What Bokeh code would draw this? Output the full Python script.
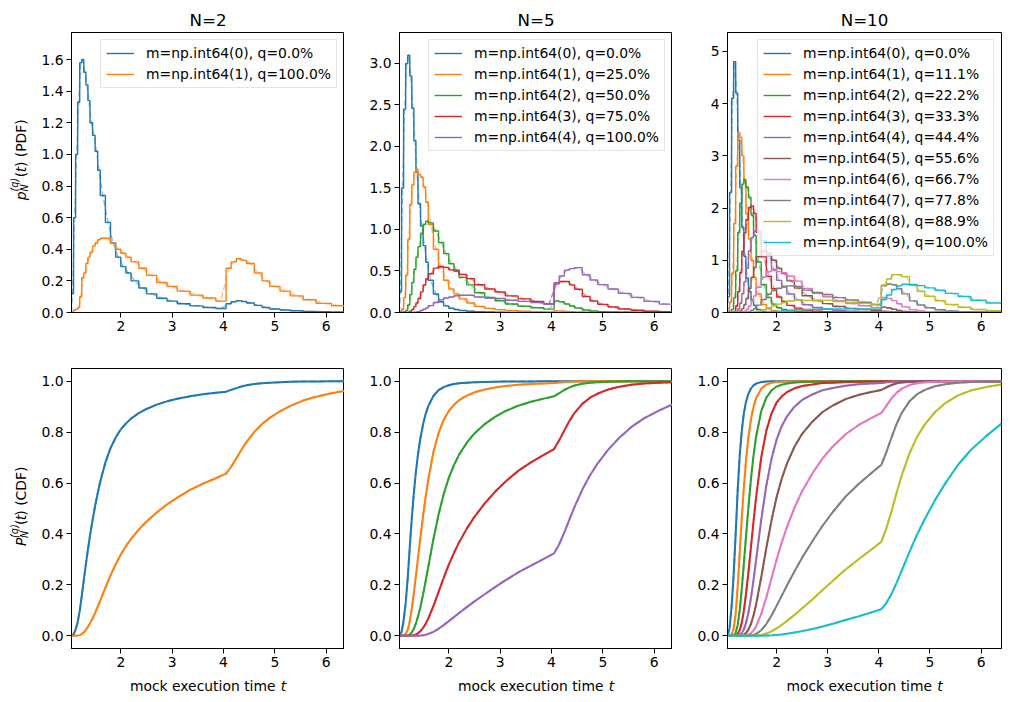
from bokeh.plotting import figure
from bokeh.layouts import column, row
from bokeh.models import Legend, LegendItem, Label, FixedTicker, Range1d, NumeralTickFormatter
from bokeh.embed import file_html
from bokeh.resources import INLINE

FONT = "DejaVu Sans"
COLORS = ["#1f77b4", "#ff7f0e", "#2ca02c", "#d62728", "#9467bd",
          "#8c564b", "#e377c2", "#7f7f7f", "#bcbd22", "#17becf"]

# Histogram bin edges (PDF) and evaluation points (CDF)
bin_edges = [1.04, 1.08, 1.12, 1.16, 1.2, 1.24, 1.28, 1.32, 1.36, 1.4, 1.45, 1.5, 1.55, 1.6,
             1.7, 1.8, 1.9, 2.0, 2.1, 2.2, 2.35, 2.5, 2.7, 2.9, 3.1, 3.35, 3.6, 3.85, 4.05,
             4.15, 4.25, 4.35, 4.45, 4.6, 4.75, 4.9, 5.1, 5.3, 5.55, 5.8, 6.1, 6.4]
t_cdf = bin_edges

sample_sizes = [2, 5, 10]

# ---- PDF histograms (density per bin) ----
pdf2_0 = [0.12, 0.6, 1.0, 1.33, 1.58, 1.6, 1.52, 1.44, 1.34, 1.2,
          1.12, 1.02, 0.9, 0.74, 0.57, 0.44, 0.35, 0.29, 0.25, 0.2,
          0.155, 0.118, 0.09, 0.072, 0.055, 0.042, 0.032, 0.025, 0.055, 0.068,
          0.075, 0.07, 0.06, 0.045, 0.032, 0.022, 0.016, 0.011, 0.007, 0.005,
          0.003]
pdf2_1 = [0.0, 0.015, 0.02, 0.03, 0.1, 0.22, 0.25, 0.31, 0.35, 0.38,
          0.42, 0.44, 0.46, 0.47, 0.47, 0.44, 0.4, 0.375, 0.35, 0.32,
          0.28, 0.235, 0.19, 0.165, 0.135, 0.11, 0.092, 0.072, 0.28, 0.32,
          0.34, 0.33, 0.31, 0.25, 0.2, 0.165, 0.135, 0.105, 0.081, 0.058,
          0.043]

pdf5_0 = [0.25, 1.5, 2.45, 3.0, 3.1, 2.85, 2.46, 2.07, 1.685, 1.31,
          1.04, 0.806, 0.606, 0.388, 0.222, 0.13, 0.08, 0.051, 0.036, 0.024,
          0.015, 0.0085, 0.0052, 0.0033, 0.002, 0.001, 0.0007, 0.0005, 0.0012, 0.0009,
          0.0006, 0.0003, 0, 0, 0, 0, 0, 0, 0, 0,
          0]
pdf5_1 = [0.0, 0.04, 0.18, 0.45, 0.88, 1.3, 1.537, 1.69, 1.727, 1.664,
          1.63, 1.512, 1.332, 1.058, 0.762, 0.54, 0.389, 0.284, 0.224, 0.164,
          0.115, 0.0735, 0.05, 0.035, 0.023, 0.0155, 0.0106, 0.007, 0.02, 0.0168,
          0.0126, 0.0083, 0.0047, 0.0022, 0.001, 0, 0, 0, 0, 0,
          0]
pdf5_2 = [0.0, 0.0, 0.005, 0.025, 0.09, 0.216, 0.36, 0.52, 0.665, 0.793,
          0.956, 1.063, 1.101, 1.08, 0.982, 0.843, 0.709, 0.587, 0.514, 0.422,
          0.333, 0.238, 0.18, 0.141, 0.102, 0.0756, 0.0565, 0.0404, 0.14, 0.13,
          0.1028, 0.0787, 0.0547, 0.0307, 0.0183, 0.0107, 0.0058, 0.0031, 0.0015, 0.0007,
          0.0]
pdf5_3 = [0, 0, 0, 0.001, 0.004, 0.016, 0.0375, 0.071, 0.1135, 0.168,
          0.249, 0.332, 0.404, 0.466, 0.534, 0.556, 0.544, 0.514, 0.499, 0.459,
          0.408, 0.334, 0.283, 0.247, 0.2, 0.164, 0.1336, 0.103, 0.345, 0.373,
          0.374, 0.333, 0.2806, 0.193, 0.1383, 0.098, 0.0659, 0.0423, 0.0264, 0.0149,
          0.0087]
pdf5_4 = [0, 0, 0, 0, 0, 0.0004, 0.0015, 0.0036, 0.0073, 0.0133,
          0.0243, 0.0388, 0.0556, 0.0834, 0.1207, 0.152, 0.174, 0.187, 0.201, 0.207,
          0.207, 0.186, 0.175, 0.169, 0.148, 0.134, 0.1185, 0.0989, 0.359, 0.44,
          0.51, 0.529, 0.54, 0.454, 0.392, 0.336, 0.283, 0.23, 0.182, 0.134,
          0.101]

pdf10_0 = [0.3, 2.3, 4.1, 4.8, 4.2, 3.3, 2.386, 1.626, 1.078, 0.66,
           0.401, 0.236, 0.135, 0.058, 0.02, 0.0073, 0.003, 0.0013, 0.0007, 0.0003,
           0, 0, 0, 0, 0, 0, 0, 0, 0, 0,
           0, 0, 0, 0, 0, 0, 0, 0, 0, 0,
           0]
pdf10_1 = [0.01, 0.2, 0.75, 1.7, 2.8, 3.448, 3.351, 2.998, 2.486, 1.887,
           1.408, 0.996, 0.67, 0.355, 0.155, 0.069, 0.033, 0.017, 0.0097, 0.005,
           0.0024, 0.001, 0, 0, 0, 0, 0, 0, 0, 0,
           0, 0, 0, 0, 0, 0, 0, 0, 0, 0,
           0]
pdf10_2 = [0, 0.005, 0.06, 0.28, 0.8, 1.532, 2.092, 2.457, 2.549, 2.397,
           2.202, 1.867, 1.475, 0.966, 0.531, 0.286, 0.16, 0.092, 0.059, 0.034,
           0.018, 0.009, 0.0047, 0.0025, 0.001, 0, 0, 0, 0, 0,
           0, 0, 0, 0, 0, 0, 0, 0, 0, 0,
           0]
pdf10_3 = [0, 0, 0.002, 0.022, 0.123, 0.397, 0.762, 1.174, 1.524, 1.776,
           2.009, 2.04, 1.894, 1.535, 1.065, 0.694, 0.454, 0.297, 0.212, 0.137,
           0.083, 0.0455, 0.0263, 0.0157, 0.0087, 0.0049, 0.0029, 0.0016, 0.004, 0.0026,
           0.001, 0, 0, 0, 0, 0, 0, 0, 0, 0,
           0]
pdf10_4 = [0, 0, 0, 0.001, 0.013, 0.066, 0.178, 0.361, 0.586, 0.846,
           1.177, 1.434, 1.563, 1.567, 1.372, 1.084, 0.826, 0.615, 0.487, 0.353,
           0.241, 0.148, 0.095, 0.063, 0.039, 0.024, 0.015, 0.0095, 0.025, 0.018,
           0.0115, 0.0062, 0.003, 0.001, 0, 0, 0, 0, 0, 0,
           0]
pdf10_5 = [0, 0, 0, 0, 0.001, 0.0074, 0.028, 0.074, 0.15, 0.269,
           0.46, 0.672, 0.861, 1.067, 1.178, 1.128, 1.001, 0.849, 0.746, 0.606,
           0.466, 0.32, 0.23, 0.169, 0.114, 0.0785, 0.0545, 0.0363, 0.103, 0.086,
           0.063, 0.039, 0.021, 0.0088, 0.004, 0.001, 0, 0, 0, 0,
           0]
pdf10_6 = [0, 0, 0, 0, 0, 0.001, 0.003, 0.01, 0.026, 0.057,
           0.12, 0.21, 0.316, 0.484, 0.674, 0.782, 0.809, 0.782, 0.762, 0.694,
           0.6, 0.462, 0.369, 0.302, 0.225, 0.17, 0.129, 0.093, 0.286, 0.27,
           0.228, 0.167, 0.108, 0.055, 0.03, 0.015, 0.007, 0.003, 0.001, 0,
           0]
pdf10_7 = [0, 0, 0, 0, 0, 0, 0, 0.001, 0.003, 0.008,
           0.02, 0.042, 0.075, 0.141, 0.248, 0.349, 0.42, 0.463, 0.5, 0.51,
           0.497, 0.428, 0.382, 0.346, 0.284, 0.238, 0.196, 0.152, 0.509, 0.545,
           0.532, 0.455, 0.356, 0.223, 0.144, 0.091, 0.052, 0.028, 0.014, 0.0065,
           0.003]
pdf10_8 = [0, 0, 0, 0, 0, 0, 0, 0, 0, 0,
           0.002, 0.005, 0.01, 0.024, 0.053, 0.091, 0.127, 0.16, 0.191, 0.219,
           0.24, 0.232, 0.231, 0.232, 0.21, 0.194, 0.174, 0.146, 0.529, 0.642,
           0.725, 0.722, 0.686, 0.524, 0.408, 0.31, 0.224, 0.152, 0.0995, 0.0586,
           0.0351]
pdf10_9 = [0, 0, 0, 0, 0, 0, 0, 0, 0, 0,
           0, 0, 0.001, 0.002, 0.005, 0.011, 0.017, 0.025, 0.033, 0.042,
           0.052, 0.056, 0.062, 0.069, 0.069, 0.07, 0.068, 0.062, 0.244, 0.336,
           0.439, 0.51, 0.54, 0.53, 0.514, 0.472, 0.427, 0.367, 0.305, 0.235,
           0.182]

# ---- CDF values at t_cdf ----
cdf2_0 = [0, 0.006, 0.024, 0.053, 0.0975, 0.157, 0.22, 0.281, 0.339, 0.393,
          0.454, 0.51, 0.56, 0.606, 0.681, 0.737, 0.779, 0.811, 0.834, 0.853,
          0.875, 0.891, 0.908, 0.921, 0.931, 0.941, 0.949, 0.955, 0.959, 0.966,
          0.973, 0.979, 0.984, 0.989, 0.992, 0.994, 0.996, 0.998, 0.999, 0.999,
          1.0, 1.0]
cdf2_1 = [0, 0, 0.0001, 0.0007, 0.0025, 0.0067, 0.0137, 0.0231, 0.035, 0.0488,
          0.068, 0.09, 0.114, 0.138, 0.189, 0.237, 0.281, 0.319, 0.352, 0.381,
          0.417, 0.449, 0.484, 0.516, 0.543, 0.573, 0.598, 0.619, 0.637, 0.664,
          0.697, 0.731, 0.762, 0.801, 0.832, 0.856, 0.882, 0.903, 0.924, 0.939,
          0.953, 0.964]

cdf5_0 = [0, 0.015, 0.059, 0.128, 0.226, 0.348, 0.463, 0.562, 0.645, 0.713,
          0.78, 0.832, 0.872, 0.902, 0.942, 0.965, 0.977, 0.984, 0.989, 0.992,
          0.994, 0.996, 0.997, 0.998, 0.999, 0.999, 0.999, 1, 1, 1,
          1, 1, 1, 1, 1, 1, 1, 1, 1, 1,
          1, 1]
cdf5_1 = [0, 0.0001, 0.0014, 0.007, 0.0226, 0.0568, 0.1076, 0.1685, 0.2363, 0.3061,
          0.3904, 0.4717, 0.5464, 0.6131, 0.7208, 0.7959, 0.8478, 0.8832, 0.9074, 0.9254,
          0.9437, 0.9564, 0.9677, 0.9755, 0.9811, 0.986, 0.9891, 0.9915, 0.9931, 0.995,
          0.9968, 0.998, 0.9988, 0.9995, 0.9997, 0.9998, 0.9999, 1, 1, 1,
          1, 1]
cdf5_2 = [0, 0, 0, 0.0003, 0.0012, 0.0048, 0.0134, 0.0276, 0.0484, 0.0752,
          0.1155, 0.163, 0.2154, 0.2703, 0.3795, 0.4757, 0.5562, 0.6205, 0.6703, 0.7115,
          0.7586, 0.7951, 0.8316, 0.8599, 0.8823, 0.9038, 0.9192, 0.9317, 0.9406, 0.953,
          0.9655, 0.9757, 0.9832, 0.9902, 0.994, 0.9962, 0.998, 0.9989, 0.9995, 0.9998,
          0.9999, 1]
cdf5_3 = [0, 0, 0, 0, 0.0001, 0.0002, 0.0009, 0.0023, 0.0052, 0.0097,
          0.0184, 0.0307, 0.0472, 0.0673, 0.1168, 0.1717, 0.2273, 0.2792, 0.325, 0.3669,
          0.4208, 0.4675, 0.52, 0.5656, 0.6054, 0.6476, 0.6812, 0.7105, 0.7333, 0.7677,
          0.807, 0.8443, 0.8759, 0.9111, 0.9353, 0.9517, 0.9672, 0.9775, 0.9859, 0.991,
          0.9944, 0.9966]
cdf5_4 = [0, 0, 0, 0, 0, 0, 0, 0.0001, 0.0002, 0.0005,
          0.0012, 0.0024, 0.0044, 0.0072, 0.0156, 0.0274, 0.0418, 0.0576, 0.0733, 0.0894,
          0.1125, 0.135, 0.1633, 0.1909, 0.2175, 0.2486, 0.276, 0.302, 0.3237, 0.3596,
          0.4061, 0.4569, 0.5071, 0.5743, 0.6309, 0.6772, 0.7301, 0.7738, 0.8196, 0.8543,
          0.8855, 0.9129]

cdf10_0 = [0, 0.0296, 0.1137, 0.2394, 0.4013, 0.575, 0.7119, 0.8077, 0.8739, 0.9177,
           0.9514, 0.9718, 0.9836, 0.9905, 0.9967, 0.9987, 0.9995, 0.9998, 0.9999, 1,
           1, 1, 1, 1, 1, 1, 1, 1, 1, 1,
           1, 1, 1, 1, 1, 1, 1, 1, 1, 1,
           1, 1]
cdf10_1 = [0, 0.0004, 0.006, 0.0283, 0.0862, 0.1954, 0.3302, 0.463, 0.5833, 0.6843,
           0.7799, 0.8507, 0.9001, 0.9336, 0.9708, 0.9867, 0.9935, 0.9966, 0.998, 0.9988,
           0.9994, 0.9997, 0.9998, 0.9999, 1, 1, 1, 1, 1, 1,
           1, 1, 1, 1, 1, 1, 1, 1, 1, 1,
           1, 1]
cdf10_2 = [0, 0, 0.0002, 0.0019, 0.0116, 0.0428, 0.1026, 0.185, 0.2831, 0.3862,
           0.5072, 0.6172, 0.7093, 0.783, 0.8824, 0.9355, 0.9633, 0.979, 0.9861, 0.9909,
           0.9948, 0.9968, 0.9982, 0.9991, 0.9994, 0.9997, 0.9999, 0.9999, 1, 1,
           1, 1, 1, 1, 1, 1, 1, 1, 1, 1,
           1, 1]
cdf10_3 = [0, 0, 0, 0.0001, 0.0011, 0.0064, 0.0222, 0.0521, 0.099, 0.1607,
           0.2504, 0.3503, 0.4507, 0.5451, 0.7009, 0.8059, 0.8728, 0.9156, 0.94, 0.9568,
           0.9722, 0.9812, 0.9867, 0.9928, 0.994, 0.9968, 0.9982, 0.9988, 0.9992, 0.9997,
           0.9998, 0.9999, 1, 1, 1, 1, 1, 1, 1, 1,
           1, 1]
cdf10_4 = [0, 0, 0, 0, 0.0001, 0.0008, 0.0035, 0.0104, 0.025, 0.0487,
           0.0917, 0.1502, 0.2207, 0.2985, 0.4564, 0.5906, 0.6942, 0.7704, 0.8233, 0.8607,
           0.9002, 0.9265, 0.9479, 0.9648, 0.9735, 0.9826, 0.9879, 0.9913, 0.993, 0.996,
           0.9976, 0.999, 0.9994, 0.9999, 1, 1, 1, 1, 1, 1,
           1, 1]
cdf10_5 = [0, 0, 0, 0, 0, 0.0001, 0.0004, 0.0015, 0.0045, 0.0106,
           0.0244, 0.0473, 0.0804, 0.1232, 0.2305, 0.3453, 0.4525, 0.5441, 0.6166, 0.675,
           0.7426, 0.7934, 0.8412, 0.879, 0.9046, 0.9297, 0.946, 0.958, 0.9656, 0.9763,
           0.9851, 0.9916, 0.9952, 0.998, 0.9991, 0.9997, 0.9998, 1, 1, 1,
           1, 1]
cdf10_6 = [0, 0, 0, 0, 0, 0, 0, 0.0002, 0.0006, 0.0016,
           0.0046, 0.0106, 0.021, 0.0367, 0.0856, 0.1513, 0.2254, 0.2992, 0.3656, 0.4257,
           0.5029, 0.5682, 0.6377, 0.697, 0.7438, 0.7919, 0.8271, 0.8553, 0.8753, 0.9042,
           0.9324, 0.9553, 0.971, 0.9849, 0.9919, 0.9955, 0.9978, 0.9989, 0.9996, 0.9999,
           1, 1]
cdf10_7 = [0, 0, 0, 0, 0, 0, 0, 0, 0, 0.0002,
           0.0006, 0.0016, 0.0037, 0.0074, 0.0218, 0.0461, 0.0791, 0.1174, 0.1566, 0.1962,
           0.253, 0.3069, 0.3715, 0.4322, 0.4863, 0.5467, 0.5956, 0.6384, 0.6715, 0.7227,
           0.7798, 0.8331, 0.876, 0.921, 0.949, 0.9662, 0.9803, 0.9884, 0.9942, 0.997,
           0.9985, 0.9994]
cdf10_8 = [0, 0, 0, 0, 0, 0, 0, 0, 0, 0,
           0, 0.0001, 0.0004, 0.0009, 0.0034, 0.0087, 0.0172, 0.0289, 0.0424, 0.0576,
           0.082, 0.108, 0.1429, 0.1794, 0.2157, 0.2602, 0.2999, 0.3379, 0.3697, 0.4229,
           0.4903, 0.5629, 0.6311, 0.7167, 0.7822, 0.8305, 0.8791, 0.9138, 0.9444, 0.9634,
           0.9772, 0.9868]
cdf10_9 = [0, 0, 0, 0, 0, 0, 0, 0, 0, 0,
           0, 0, 0, 0, 0.0002, 0.0008, 0.0017, 0.0033, 0.0054, 0.008,
           0.0127, 0.0182, 0.0266, 0.0364, 0.0472, 0.0618, 0.0762, 0.0912, 0.1047, 0.1293,
           0.1648, 0.2088, 0.2571, 0.3298, 0.3981, 0.4586, 0.5329, 0.5987, 0.6718, 0.7299,
           0.7843, 0.8339]

pdf_series = {
    2: [pdf2_0, pdf2_1],
    5: [pdf5_0, pdf5_1, pdf5_2, pdf5_3, pdf5_4],
    10: [pdf10_0, pdf10_1, pdf10_2, pdf10_3, pdf10_4, pdf10_5, pdf10_6, pdf10_7, pdf10_8, pdf10_9],
}
cdf_series = {
    2: [cdf2_0, cdf2_1],
    5: [cdf5_0, cdf5_1, cdf5_2, cdf5_3, cdf5_4],
    10: [cdf10_0, cdf10_1, cdf10_2, cdf10_3, cdf10_4, cdf10_5, cdf10_6, cdf10_7, cdf10_8, cdf10_9],
}

# axis setup per column
x_ranges = [(1.04, 6.356), (1.04, 6.356), (1.04, 6.40)]
pdf_ymax = [1.771, 3.373, 5.36]
pdf_ticks = [[0.0, 0.2, 0.4, 0.6, 0.8, 1.0, 1.2, 1.4, 1.6],
             [0.0, 0.5, 1.0, 1.5, 2.0, 2.5, 3.0],
             [0, 1, 2, 3, 4, 5]]
pdf_tick_fmt = ["0.0", "0.0", "0"]
cdf_ticks = [0.0, 0.2, 0.4, 0.6, 0.8, 1.0]
x_ticks = [2, 3, 4, 5, 6]

FS = 13.9   # tick/legend/label text size (px)
SS = 9.7    # script size for sub/superscripts
FRAME_H = 280

# layout geometry (px)
YLAB_W = 34                       # strip holding the rotated y labels
TITLE_H = 31                      # strip holding the panel titles
XLAB_H = 28                       # strip holding the x-axis labels
TOP_H = 1 + FRAME_H + 26          # top panels: border + frame + tick labels
BOT_H = 30 + FRAME_H + 26
col_widths = [344, 328, 338]      # total width of each column
frame_centers = [207.5, 191.5, 192.0]  # frame centre inside each column strip

bin_centers = [(a + b) / 2 for a, b in zip(bin_edges[:-1], bin_edges[1:])]


def blank(width, height):
    f = figure(width=width, height=height, output_backend="svg", toolbar_location=None,
               x_range=Range1d(0, width), y_range=Range1d(0, height),
               x_axis_type=None, y_axis_type=None, min_border=0)
    f.outline_line_color = None
    f.xgrid.visible = False
    f.ygrid.visible = False
    f.background_fill_color = "white"
    f.border_fill_color = "white"
    return f


def add_text(p, text, x, y, size=FS, style="normal", align="left", angle=0):
    p.add_layout(Label(x=x, y=y, text=text, angle=angle, angle_units="deg",
                       text_font=FONT, text_font_size=f"{size}px", text_font_style=style,
                       text_align=align, text_baseline="alphabetic", text_color="black"))


def ylabel_strip(height, center_y, letter, tag):
    # p_N^{(q)}(t) (TAG), read bottom to top
    f = blank(YLAB_W, height)
    bx = 20.5
    s0 = center_y - 43
    add_text(f, letter, bx, s0, FS, "italic", angle=90)
    add_text(f, "N", bx + 3.5, s0 + 9.6, SS, "italic", angle=90)
    add_text(f, "(q)", bx - 6.5, s0 + 9.6, SS, "italic", angle=90)
    add_text(f, "(", bx, s0 + 25.2, FS, "normal", angle=90)
    add_text(f, "t", bx, s0 + 30.8, FS, "italic", angle=90)
    add_text(f, ") (" + tag + ")", bx, s0 + 36.4, FS, "normal", angle=90)
    return f


def style_axes(p, yticks, yfmt):
    p.xaxis.ticker = FixedTicker(ticks=x_ticks)
    p.xaxis.formatter = NumeralTickFormatter(format="0")
    p.yaxis.ticker = FixedTicker(ticks=yticks)
    p.yaxis.formatter = NumeralTickFormatter(format=yfmt)
    for ax in (p.xaxis[0], p.yaxis[0]):
        ax.axis_line_color = "black"
        ax.axis_line_width = 1
        ax.major_tick_line_color = "black"
        ax.major_tick_line_width = 1
        ax.major_tick_out = 5
        ax.major_tick_in = 0
        ax.minor_tick_line_color = None
        ax.major_label_text_font = FONT
        ax.major_label_text_font_size = f"{FS}px"
        ax.major_label_text_color = "black"
        ax.major_label_standoff = 3
    p.xgrid.visible = False
    p.ygrid.visible = False
    p.outline_line_color = "black"
    p.outline_line_width = 1
    p.background_fill_color = "white"
    p.border_fill_color = "white"


def frame_w(col):
    return 274 if col == 2 else 273


def borders(col):
    left = 37 if col == 0 else 55
    right = 9 if col == 2 else 0
    return left, right


title_row, top_figs, bottom_figs, xlab_row = [], [], [], []
for col, n in enumerate(sample_sizes):
    fw = frame_w(col)
    bl, br = borders(col)

    # panel title
    t = blank(col_widths[col], TITLE_H)
    add_text(t, f"N={n}", frame_centers[col], 12, 16.7, "normal", align="center")
    title_row.append(t)

    # ---------------- PDF panel ----------------
    p = figure(frame_width=fw, frame_height=FRAME_H, output_backend="svg", toolbar_location=None,
               x_range=Range1d(*x_ranges[col]), y_range=Range1d(0, pdf_ymax[col]),
               min_border_left=bl, min_border_right=br, min_border_top=1, min_border_bottom=26)
    style_axes(p, pdf_ticks[col], pdf_tick_fmt[col])
    items = []
    for m, vals in enumerate(pdf_series[n]):
        color = COLORS[m]
        r = p.step(bin_edges, vals + [vals[-1]], mode="after", line_color=color, line_width=1.4)
        p.line([bin_edges[0]] + bin_centers, [0] + vals, line_color=color, line_width=1.4,
               line_dash="6 3", line_alpha=0.5)
        q = 100.0 * m / (n - 1)
        items.append(LegendItem(label=f"m=np.int64({m}), q={q:.1f}%", renderers=[r]))
    legend = Legend(items=items, location="top_right", margin=7, padding=5, spacing=5,
                    label_height=16, glyph_height=16, glyph_width=28, label_standoff=12,
                    label_text_font=FONT, label_text_font_size=f"{FS}px",
                    label_text_color="black",
                    border_line_color="#cccccc", border_line_width=1,
                    background_fill_color="white", background_fill_alpha=0.8)
    p.add_layout(legend)
    top_figs.append(p)

    # ---------------- CDF panel ----------------
    c = figure(frame_width=fw, frame_height=FRAME_H, output_backend="svg", toolbar_location=None,
               x_range=Range1d(*x_ranges[col]), y_range=Range1d(-0.05, 1.05),
               min_border_left=bl, min_border_right=br, min_border_top=30, min_border_bottom=26)
    style_axes(c, cdf_ticks, "0.0")
    for m, vals in enumerate(cdf_series[n]):
        color = COLORS[m]
        c.line(t_cdf, vals, line_color=color, line_width=2.0)
        c.line(t_cdf, vals, line_color=color, line_width=2.0, line_dash="6 3", line_alpha=0.5)
    bottom_figs.append(c)

    # x-axis label: "mock execution time t"
    xs = blank(col_widths[col], XLAB_H)
    start = frame_centers[col] - 78.1
    add_text(xs, "mock execution time", start, 17)
    add_text(xs, "t", start + 150.8, 17, FS, "italic")
    xlab_row.append(xs)

ylab_top = ylabel_strip(TOP_H, TOP_H - (172 - TITLE_H), "p", "PDF")
ylab_bot = ylabel_strip(BOT_H, BOT_H - (508 - TITLE_H - TOP_H), "P", "CDF")

layout = column(
    row(*title_row),
    row(ylab_top, *top_figs),
    row(ylab_bot, *bottom_figs),
    row(*xlab_row),
)
open("out.html", "w").write(file_html(layout, INLINE))
